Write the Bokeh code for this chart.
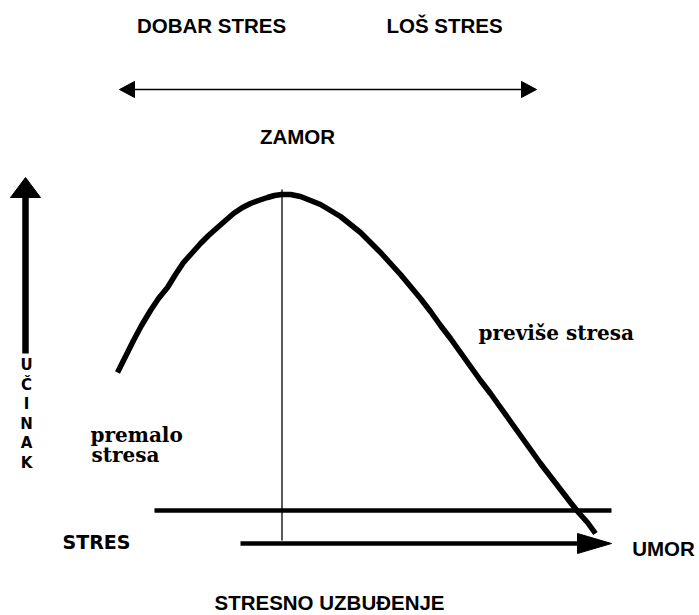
from bokeh.plotting import figure
from bokeh.models import Range1d
from bokeh.core.properties import value
from bokeh.embed import file_html
from bokeh.resources import INLINE

# --- Data (diagram coordinates, y grows downward) ---
curve_x = [117, 125, 133, 141, 150, 158, 167, 175, 183, 192, 200, 208, 217, 225, 233, 242, 250, 258,
           267, 274, 281, 290, 300, 310, 320, 330, 340, 350, 360, 370, 380, 390, 400, 410, 420, 430,
           440, 450, 460, 470, 480, 490, 500, 510, 520, 530, 540, 550, 560, 570, 578, 587, 595]
curve_y = [372, 356, 340, 325, 310, 298, 287, 274, 262, 252, 243, 235, 227, 220, 213, 207, 203, 200,
           197, 195, 194, 194, 196, 200, 204, 210, 216, 224, 232, 242, 252, 263, 274, 286, 298, 311,
           325, 338, 352, 366, 380, 393, 407, 421, 435, 449, 463, 476, 489, 502, 512, 522, 533]

top_labels = ["DOBAR STRES", "LOŠ STRES", "ZAMOR"]
top_label_x = [211, 444, 297]
top_label_y = [25, 25, 136]

bottom_labels = ["UMOR", "STRESNO UZBUĐENJE"]
bottom_label_x = [663, 329]
bottom_label_y = [548, 602]

axis_letters = list("UČINAK")
axis_letter_y = [364, 384, 403, 423, 442, 462]

serif_labels = ["premalo", "stresa", "previše stresa"]
serif_label_x = [90, 91, 478]
serif_label_y = [434, 454, 332]

W, H = 699, 615
p = figure(width=W, height=H, x_range=Range1d(0, W), y_range=Range1d(H, 0),
           output_backend="svg", toolbar_location=None,
           x_axis_type=None, y_axis_type=None, min_border=0)
p.outline_line_color = None
p.grid.visible = False
p.background_fill_color = "white"

# performance curve
p.line(curve_x, curve_y, line_width=5.5, line_color="black", line_join="round")

# thin vertical line through the peak
p.line([281.5, 281.5], [189, 540], line_width=1.3, line_color="black")

# horizontal threshold line
p.line([154, 611], [510, 510], line_width=4.5, line_color="black")

def arrow_h(x0, x1, y, lw, head_len, head_half, both=False):
    d = 1 if x1 > x0 else -1
    xs0 = x0 + (d * head_len if both else 0)
    p.line([xs0, x1 - d * head_len], [y, y], line_width=lw, line_color="black")
    xs = [[x1, x1 - d * head_len, x1 - d * head_len]]
    ys = [[y, y - head_half, y + head_half]]
    if both:
        xs.append([x0, x0 + d * head_len, x0 + d * head_len])
        ys.append([y, y - head_half, y + head_half])
    p.patches(xs, ys, fill_color="black", line_color="black", line_width=1)

# bottom stress arrow
arrow_h(240, 611, 543, 4.5, 34, 10)
# top double arrow
arrow_h(119, 536, 89, 1.6, 15, 8, both=True)

# vertical performance arrow
p.line([25, 25], [353, 194], line_width=6.5, line_color="black")
p.patches([[25, 10, 40]], [[177, 197, 197]], fill_color="black", line_color="black")

# texts
sans = value("Liberation Sans")
p.text(top_label_x, top_label_y, text=top_labels, text_font=sans, text_font_style="bold",
       text_font_size="20.5px", text_align="center", text_baseline="middle", text_color="black")
p.text(bottom_label_x, bottom_label_y, text=bottom_labels, text_font=sans, text_font_style="bold",
       text_font_size="20.5px", text_align="center", text_baseline="middle", text_color="black")
p.text([96], [541], text=["STRES"], text_font=value("DejaVu Sans"), text_font_style="bold",
       text_font_size="19px", text_align="center", text_baseline="middle", text_color="black")
p.text([26] * len(axis_letters), axis_letter_y, text=axis_letters, text_font=value("DejaVu Sans"),
       text_font_style="bold", text_font_size="15px", text_align="center", text_baseline="middle",
       text_color="black")
p.text(serif_label_x, serif_label_y, text=serif_labels, text_font=value("DejaVu Serif"),
       text_font_style="bold", text_font_size="20px", text_align="left", text_baseline="middle",
       text_color="black")

open("out.html", "w").write(file_html(p, INLINE))
